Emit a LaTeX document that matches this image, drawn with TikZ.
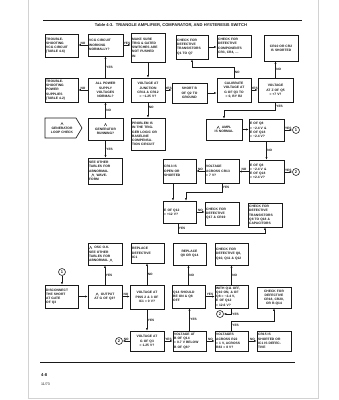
\documentclass[tikz,border=0pt]{standalone}
\usepackage{fontspec}
\setmainfont{Liberation Sans}
\usetikzlibrary{arrows.meta}
\definecolor{ink}{gray}{0.1}
\newcommand\tw{\tikz[x=1pt,y=1pt,baseline=0pt]\draw[line width=0.35pt,draw=ink](0,0)--(1.3,2.5)--(2.6,0);}
\newcommand\bx[7][]{%
  \pgfmathsetmacro\bw{#5-#3}\pgfmathsetmacro\bh{#6-#4}\pgfmathsetmacro\btw{#5-#3-2.4}%
  \node[box,minimum width=\bw pt,minimum height=\bh pt,text width=\btw pt,#1] (#2) at ({(#3+#5)/2},{(#4+#6)/2}) {#7};}
\begin{document}
\begin{tikzpicture}[x=1pt,y=-1pt,
  box/.style={draw=ink,line width=0.65pt,align=left,inner xsep=1.2pt,inner ysep=0.4pt,
    font=\fontsize{3.3}{4.2}\selectfont\bfseries,text=ink},
  arr/.style={draw=ink,line width=0.55pt,-{Latex[length=2.5pt,width=2.1pt]}},
  lab/.style={font=\fontsize{3.2}{3.5}\selectfont\bfseries,text=ink,inner sep=0.6pt},
  cir/.style={circle,draw=ink,line width=0.55pt,inner sep=0pt,minimum size=7pt,
    font=\fontsize{4}{4}\selectfont\bfseries,text=ink}]
\useasboundingbox (0,0) rectangle (339,400);
% page frame
\draw[gray!35,line width=0.8pt] (28,0) -- (28,398) -- (318,398) -- (318,0);
% title and rules
\draw[ink,line width=0.8pt] (43,20) -- (302,20);
\node[text=ink,inner sep=0pt] (title) at (171,25.5)
  {\fontsize{4.1}{5}\selectfont\bfseries Table 4-3.\ \ TRIANGLE AMPLIFIER, COMPARATOR, AND HYSTERESIS SWITCH};
\draw[ink,line width=0.8pt] (40,362) -- (295,362);
\node[anchor=west,text=ink,inner sep=0pt,font=\fontsize{4.2}{5}\selectfont\bfseries] (pg) at (41,375) {4-8};
\node[anchor=west,text=ink,inner sep=0pt,font=\fontsize{3.6}{4}\selectfont] (dt) at (41,384) {11/73};

% row 1
\bx{A1}{45}{34}{78}{57}{TROUBLE-\\SHOOTING\\VCG CIRCUIT\\(TABLE 4-6)}
\bx{A2}{88}{34}{123}{56}{VCG CIRCUIT\\WORKING\\NORMALLY?}
\bx{A3}{131}{33}{165}{62}{MAKE SURE\\TRIG \& GATED\\SWITCHES ARE\\NOT PUSHED\\IN}
\bx{A4}{176}{35}{208}{59}{CHECK FOR\\DEFECTIVE\\TRANSISTORS\\Q1 TO Q7}
\bx{A5}{217}{35}{251}{57}{CHECK FOR\\DEFECTIVE\\COMPONENTS\\CR3, CR4, \dots}
\bx[align=center]{A6}{264}{35}{298}{61}{CR10 OR CR2\\IS SHORTED}
% row 2
\bx{B1}{45}{78}{78}{102}{TROUBLE-\\SHOOTING\\POWER\\SUPPLIES\\(TABLE 4-2)}
\bx[align=center]{B2}{88}{78}{123}{102}{ALL POWER\\SUPPLY\\VOLTAGES\\NORMAL?}
\bx[align=center]{B3}{131}{78}{165}{102}{VOLTAGE AT\\JUNCTION\\CR11 \& CR12\\≈ −1.25 V?}
\bx[align=center]{B4}{172}{83}{207}{103}{SHORT B\\OF Q2 TO\\GROUND}
\bx[align=center]{B5}{217}{78}{251}{102}{CALIBRATE\\VOLTAGE AT\\G OF Q3 TO\\≈ 0, BY R2}
\bx[align=center]{B6}{258}{78}{293}{102}{VOLTAGE\\AT Z OF Q5\\≈ +7 V?}
% row 3
\draw[ink,line width=0.65pt] (45,118) -- (76,118) -- (82,128) -- (76,138) -- (45,138) -- cycle;
\node[align=center,font=\fontsize{3.3}{4.2}\selectfont\bfseries,text=ink,inner sep=0pt] (C1) at (62,128) {\tw\\GENERATOR\\LOOP CHECK};
\bx[align=center]{C2}{88}{118}{123}{140}{\tw\\GENERATOR\\RUNNING?}
\bx{C3}{131}{118}{165}{150}{PROBLEM IS\\IN THE TRIG-\\GER LOGIC OR\\BASELINE\\COMPENSA-\\TION CIRCUIT}
\bx[align=center]{C4}{206}{119}{242}{140}{\tw\ \ AMPL\\IS NORMAL}
\bx{C5}{249}{119}{284}{141}{E OF Q8\\≈ −2.4 V \&\\E OF Q18\\≈ −2.4 V?}
\node[cir] (c1) at (296,130) {1};
% row 4
\bx{D2}{88}{158}{122}{184}{SEE OTHER\\TABLES FOR\\ABNORMAL\\\ \ \tw\ \ WAVE-\\FORM}
\bx{D3}{163}{159}{196}{183}{CR13 IS\\OPEN OR\\SHORTED}
\bx{D4}{205}{159}{239}{183}{VOLTAGE\\ACROSS CR13\\≈ 7 V?}
\bx{D5}{249}{160}{284}{183}{E OF Q8\\≈ −2.4 V \&\\E OF Q18\\≈ +2.4 V?}
\node[cir] (c2) at (296,172) {2};
% row 5
\bx{E1}{163}{201}{196}{223}{E OF Q12\\≈ +12 V?}
\bx{E2}{205}{202}{239}{225}{CHECK FOR\\DEFECTIVE\\Q17 \& CR19}
\bx{E3}{248}{203}{282}{227}{CHECK FOR\\DEFECTIVE\\TRANSISTORS\\Q8 TO Q18 \&\\CAPACITORS}
% row 6
\bx{F1}{88}{243}{122}{265}{\tw\ \ OSC O.K.\\SEE OTHER\\TABLES FOR\\ABNORMAL \tw}
\bx{F2}{131}{243}{164}{263}{REPLACE\\DEFECTIVE\\IC1}
\bx[align=center]{F3}{173}{243}{206}{265}{REPLACE\\Q8 OR Q14}
\bx{F4}{215}{243}{248}{265}{CHECK FOR\\DEFECTIVE Q8,\\Q10, Q11 \& Q12}
% row 7
\node[cir] (c3) at (62,272) {1};
\bx{G1}{45}{285}{78}{308}{DISCONNECT\\THE SHORT\\AT GATE\\OF Q3}
\bx[align=center]{G2}{88}{285}{122}{308}{\tw\ \ OUTPUT\\AT G OF Q3?}
\bx[align=center]{G3}{130}{285}{164}{309}{VOLTAGE AT\\PINS 2 \& 3 OF\\IC1 ≈ 0 V?}
\bx{G4}{172}{285}{205}{308}{Q14 SHOULD\\BE ON \& Q8\\OFF}
\bx{G5}{215}{285}{248}{308}{WITH Q11 OFF,\\Q10 ON, \& OF\\Q8 ≈ −2.4 V,\\E OF Q12\\≈ 12.6 V?}
\node[cir] (c4) at (220,314) {2};
\bx[align=center]{G6}{257}{287}{291}{308}{CHECK FOR\\DEFECTIVE\\CR18, CR20,\\OR R-Q14}
% row 8
\node[cir] (c5) at (119,341) {2};
\bx[align=center]{H1}{130}{331}{164}{351}{VOLTAGE AT\\G OF Q3\\≈ 1.25 V?}
\bx{H2}{173}{331}{206}{351}{VOLTAGE AT\\B OF Q14\\≈ 0.7 V BELOW\\B OF Q8?}
\bx{H3}{215}{331}{248}{351}{VOLTAGES\\ACROSS R22\\≈ 1 V, ACROSS\\R83 ≈ 8 V?}
\bx{H4}{257}{331}{291}{351}{CR15 IS\\SHORTED OR\\IC1 IS DEFEC-\\TIVE}

% connectors
\draw[arr] (A2.west) -- node[lab,above]{NO} (A2.west -| A1.east);
\draw[arr] (A2.east) -- node[lab,above]{YES} (A2.east -| A3.west);
\draw[arr] (A3.south) -- (A3.south |- B3.north);
\draw[arr] (A4.east) -- (A4.east -| A5.west);
\draw[arr] (B2.north) -- node[lab,right]{YES} (B2.north |- A2.south);
\draw[arr] (B2.west) -- node[lab,above]{NO} (B2.west -| B1.east);
\draw[arr] (B3.east) -- node[lab,above]{YES} (B3.east -| B4.west);
\draw[arr] (B4.east) -- (B4.east -| B5.west);
\draw[arr] (B5.north) -- node[lab,right]{NO} (B5.north |- 0,67) -| (A4.south);
\draw[arr] (B5.east) -- node[lab,above]{YES} (B5.east -| B6.west);
\draw[arr] (B6.north) -- node[lab,right]{NO} (B6.north |- A6.south);
\draw[arr] (B6.south) -- node[lab,right]{YES} (B6.south |- 0,110) -| (C4.north);
\draw[arr] (B3.south) -- node[lab,right,pos=0.3]{NO} (B3.south |- C3.north);
\draw[arr] (C4.east) -- (C4.east -| C5.west);
\draw[arr] (C5.east |- c1) -- node[lab,above]{YES} (c1.west);
\draw[arr] (C5.south) -- node[lab,right]{NO} (C5.south |- D5.north);
\draw[arr] (C2.north) -- node[lab,right]{NO} (C2.north |- B2.south);
\draw[arr] (C2.south) -- node[lab,right]{YES} (C2.south |- D2.north);
\draw[arr] (D5.west) -- node[lab,above]{NO} (D5.west -| D4.east);
\draw[arr] (D4.west) -- node[lab,above]{NO} (D4.west -| D3.east);
\draw[arr] (D5.east |- c2) -- node[lab,above]{YES} (c2.west);
\draw[arr] (D4.south) -- node[lab,right]{YES} (D4.south |- 0,192) -| ([xshift=6.5pt]E1.north);
\draw[arr] ([xshift=-6.5pt]D3.south) -- ([xshift=-6.5pt]E1.north);
\draw[arr] (E1.east) -- node[lab,above]{NO} (E1.east -| E2.west);
\draw[arr] ([xshift=-1.5pt]E1.south) -- node[lab,right]{YES} ([xshift=-1.5pt]E1.south |- 0,233) -| (E3.south);
\draw[arr] (c3) -- (c3 |- G1.north);
\draw[arr] (G1.east) -- (G1.east -| G2.west);
\draw[arr] (G2.north) -- node[lab,right]{YES} (G2.north |- F1.south);
\draw[arr] (G2.east) -- node[lab,above]{NO} (G2.east -| G3.west);
\draw[arr] (G3.north) -- node[lab,right]{NO} (G3.north |- F2.south);
\draw[arr] (G3.south) -- node[lab,right]{YES} (G3.south |- H1.north);
\draw[arr] (H1.west |- c5) -- node[lab,above]{NO} (c5.east);
\draw[arr] (H1.east) -- node[lab,above]{YES} (H1.east -| H2.west);
\draw[arr] (H2.north) -- node[lab,right]{YES} (H2.north |- G4.south);
\draw[arr] (H2.east) -- node[lab,above]{NO} (H2.east -| H3.west);
\draw[arr] (H3.east) -- node[lab,above]{NO} (H3.east -| H4.west);
\draw[arr] (G4.north) -- node[lab,right]{NO} (G4.north |- F3.south);
\draw[arr] (G4.east) -- node[lab,above]{YES} (G4.east -| G5.west);
\draw[arr] (G5.north) -- node[lab,right]{NO} (G5.north |- F4.south);
\draw[arr] (G5.south) -- (G5.south |- c4) node[lab,right]{YES} -- (c4.east);
\draw[arr] (H3.north) -- node[lab,right]{YES} (H3.north |- 0,321) -| (G6.south);
\end{tikzpicture}
\end{document}
